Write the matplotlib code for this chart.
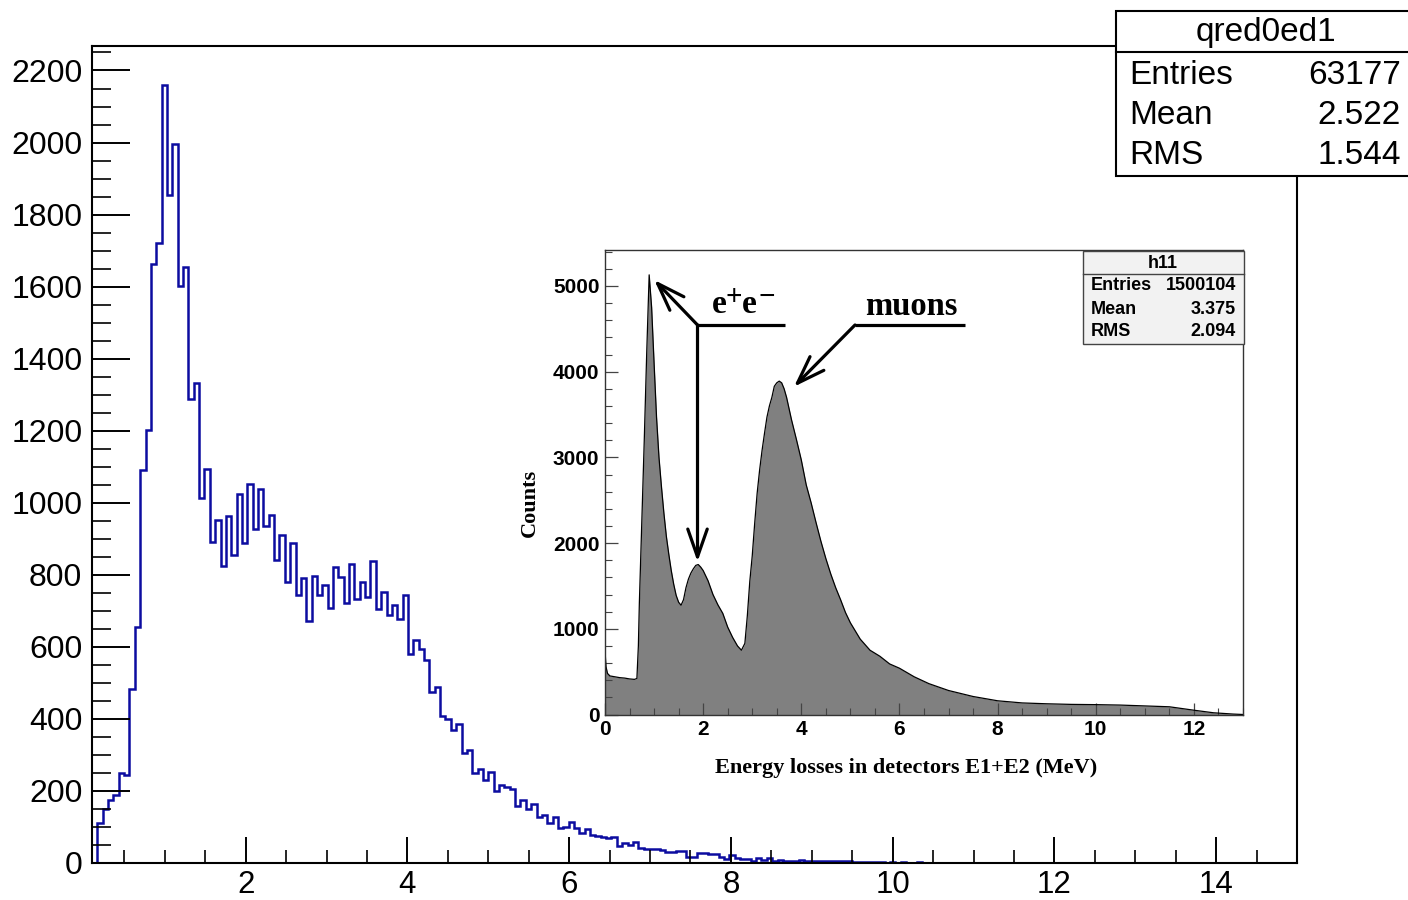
import numpy as np
import matplotlib
matplotlib.use("Agg")
import matplotlib.pyplot as plt
from matplotlib.ticker import MultipleLocator
from matplotlib.patches import Rectangle
from matplotlib.lines import Line2D

# ---------------- data: main histogram (qred0ed1) ----------------
main_xmin = 0.1
main_xmax = 15.0
main_nbins = 225
main_counts = [0, 112, 151, 174, 188, 250, 244, 482, 656, 1090,
               1201, 1664, 1721, 2160, 1854, 1995, 1601, 1655, 1287, 1333,
               1012, 1093, 890, 952, 824, 962, 856, 1025, 887, 1052,
               927, 1039, 935, 966, 842, 910, 780, 887, 743, 790,
               673, 796, 743, 771, 707, 821, 795, 722, 829, 734,
               780, 738, 837, 704, 752, 688, 717, 676, 745, 579,
               618, 593, 564, 475, 488, 407, 400, 370, 387, 305,
               314, 249, 261, 231, 254, 201, 217, 212, 205, 157,
               175, 149, 164, 127, 132, 110, 129, 98, 101, 115,
               96, 84, 93, 78, 75, 73, 70, 71, 47, 55,
               50, 58, 43, 40, 39, 39, 36, 31, 31, 34,
               34, 17, 17, 27, 29, 25, 25, 17, 11, 22,
               13, 11, 11, 5, 15, 8, 13, 6, 7, 5,
               6, 6, 7, 5, 6, 6, 5, 6, 6, 5,
               6, 5, 4, 4, 2, 2, 3, 2, 1, 2,
               1, 2, 1, 1, 2, 1, 0, 1, 0, 1]
main_ymax = 2268
main_xticks = [2, 4, 6, 8, 10, 12, 14]
main_yticks = [0, 200, 400, 600, 800, 1000, 1200, 1400, 1600, 1800, 2000, 2200]
main_stats_title = "qred0ed1"
main_stats = [("Entries", "63177"), ("Mean", "2.522"), ("RMS", "1.544")]

# ---------------- data: inset histogram (h11) ----------------
inset_energy = [0.00, 0.02, 0.05, 0.10, 0.20, 0.30, 0.40, 0.50, 0.60, 0.65,
                0.68, 0.70, 0.75, 0.80, 0.85, 0.90, 0.95, 1.00, 1.05, 1.10,
                1.15, 1.20, 1.25, 1.30, 1.35, 1.40, 1.45, 1.50, 1.55, 1.60,
                1.65, 1.70, 1.75, 1.80, 1.85, 1.90, 1.95, 2.00, 2.10, 2.20,
                2.30, 2.40, 2.50, 2.60, 2.70, 2.78, 2.85, 2.90, 2.95, 3.00,
                3.05, 3.10, 3.15, 3.20, 3.25, 3.30, 3.35, 3.40, 3.45, 3.50,
                3.55, 3.60, 3.65, 3.70, 3.80, 3.90, 4.00, 4.10, 4.20, 4.30,
                4.40, 4.50, 4.60, 4.70, 4.80, 4.90, 5.00, 5.20, 5.40, 5.60,
                5.80, 6.00, 6.30, 6.60, 7.00, 7.50, 8.00, 8.50, 9.00, 9.50,
                10.00, 10.50, 11.00, 11.50, 12.00, 12.40, 12.80, 13.00]
inset_counts = [750, 560, 480, 450, 440, 430, 425, 415, 410, 420,
                800, 1300, 2250, 3200, 4220, 5130, 4750, 4100, 3470, 3000,
                2660, 2350, 2080, 1870, 1680, 1520, 1390, 1310, 1275, 1340,
                1480, 1580, 1650, 1700, 1740, 1750, 1720, 1680, 1560, 1400,
                1280, 1180, 1020, 900, 800, 750, 830, 1150, 1550, 1850,
                2230, 2580, 2850, 3080, 3280, 3470, 3600, 3700, 3830, 3870,
                3890, 3870, 3800, 3700, 3440, 3210, 2970, 2680, 2470, 2240,
                2020, 1820, 1640, 1480, 1340, 1190, 1070, 880, 750, 680,
                590, 540, 440, 360, 280, 210, 160, 135, 125, 118,
                115, 110, 100, 90, 50, 20, 5, 0]
inset_xmax = 13.0
inset_ymax = 5420
inset_xticks = [0, 2, 4, 6, 8, 10, 12]
inset_yticks = [0, 1000, 2000, 3000, 4000, 5000]
inset_stats_title = "h11"
inset_stats = [("Entries", "1500104"), ("Mean", "3.375"), ("RMS", "2.094")]
inset_xlabel = "Energy losses in detectors E1+E2 (MeV)"
inset_ylabel = "Counts"

# ---------------- figure ----------------
W, H = 1408, 900
fig = plt.figure(figsize=(W / 100, H / 100), dpi=100)
SANS = "Liberation Sans"
SERIF = "Liberation Serif"


def fx(px):
    return px / W


def fy(py):
    return 1 - py / H


# ---- main axes ----
ax = fig.add_axes([fx(92), fy(863), fx(1297) - fx(92), fy(46) - fy(863)])
edges = main_xmin + np.arange(len(main_counts) + 1) * (main_xmax - main_xmin) / main_nbins
ax.stairs(main_counts, edges, baseline=0, color="#0c0ca0", lw=1.8)
ax.set_xlim(main_xmin, main_xmax)
ax.set_ylim(0, main_ymax)
ax.set_xticks(main_xticks)
ax.set_yticks(main_yticks)
ax.xaxis.set_minor_locator(MultipleLocator(0.5))
ax.yaxis.set_minor_locator(MultipleLocator(50))
ax.tick_params(axis="y", which="major", direction="in", length=27, width=1.4, pad=7,
               labelsize=23, left=True, right=False)
ax.tick_params(axis="y", which="minor", direction="in", length=14, width=1.2, left=True, right=False)
ax.tick_params(axis="x", which="major", direction="in", length=19, width=1.4, pad=5,
               labelsize=22.5, bottom=True, top=False)
ax.tick_params(axis="x", which="minor", direction="in", length=9.5, width=1.2, bottom=True, top=False)
for lab in ax.get_xticklabels() + ax.get_yticklabels():
    lab.set_fontfamily(SANS)
for sp in ax.spines.values():
    sp.set_linewidth(1.5)
    sp.set_color("black")

# ---- main stats box ----
box = Rectangle((fx(1116), fy(176)), fx(1420) - fx(1116), fy(11) - fy(176),
                transform=fig.transFigure, facecolor="white", edgecolor="black",
                lw=1.5, clip_on=False, zorder=5)
fig.add_artist(box)
fig.add_artist(Line2D([fx(1116), fx(1420)], [fy(52), fy(52)], transform=fig.transFigure,
                      color="black", lw=1.5, zorder=6))
fig.text(fx(1266), fy(33), main_stats_title, ha="center", va="center", fontsize=24,
         family=SANS, zorder=7)
for (name, val), py in zip(main_stats, [75, 116, 156]):
    fig.text(fx(1129), fy(py), name, ha="left", va="center", fontsize=24, family=SANS, zorder=7)
    fig.text(fx(1401), fy(py), val, ha="right", va="center", fontsize=24, family=SANS, zorder=7)

# ---- inset axes ----
axi = fig.add_axes([fx(605), fy(714.5), fx(1243) - fx(605), fy(250) - fy(714.5)], zorder=3)
axi.set_facecolor("white")
axi.fill_between(inset_energy, inset_counts, 0, color="#808080", lw=0)
axi.plot(inset_energy, inset_counts, color="black", lw=0.9)
axi.set_xlim(0, inset_xmax)
axi.set_ylim(0, inset_ymax)
axi.set_xticks(inset_xticks)
axi.set_yticks(inset_yticks)
axi.xaxis.set_minor_locator(MultipleLocator(0.5))
axi.yaxis.set_minor_locator(MultipleLocator(200))
axi.tick_params(which="major", direction="in", length=9, width=0.9, color="#444444",
                labelsize=15, pad=4, top=False, right=False)
axi.tick_params(which="minor", direction="in", length=5, width=0.8, color="#444444",
                top=False, right=False)
for lab in axi.get_xticklabels() + axi.get_yticklabels():
    lab.set_fontfamily(SANS)
    lab.set_fontweight("bold")
for sp in axi.spines.values():
    sp.set_linewidth(1.0)
    sp.set_color("#333333")

axi.text((530 - 605) / 638, (714.5 - 503) / 464.5, inset_ylabel, transform=axi.transAxes,
         rotation=90, ha="center", va="center", fontsize=16, family=SERIF, fontweight="bold")
axi.text((906 - 605) / 638, (714.5 - 768) / 464.5, inset_xlabel, transform=axi.transAxes,
         ha="center", va="center", fontsize=16, family=SERIF, fontweight="bold")

# annotations (data coordinates of the inset: MeV, counts)
arrow_kw = dict(arrowstyle="->,head_length=1.0,head_width=0.35", color="black", lw=2.3,
                shrinkA=0, shrinkB=0, mutation_scale=20)
knee_ee = (1.885, 4545)
axi.annotate("", xy=(1.004, 5070), xytext=knee_ee, arrowprops=arrow_kw)
axi.annotate("", xy=(1.885, 1783), xytext=knee_ee, arrowprops=arrow_kw)
axi.plot([1.885, 3.667], [4545, 4545], color="black", lw=2.3, solid_capstyle="butt")
knee_mu = (5.094, 4545)
axi.annotate("", xy=(3.851, 3825), xytext=knee_mu, arrowprops=arrow_kw)
axi.plot([5.094, 7.335], [4545, 4545], color="black", lw=2.3, solid_capstyle="butt")

ee_anchor = (2.18, 4685)
tkw = dict(family=SERIF, fontweight="bold", textcoords="offset points", xycoords="data")
axi.annotate("e", xy=ee_anchor, xytext=(0, 0), ha="left", va="baseline", fontsize=24, **tkw)
axi.annotate("+", xy=ee_anchor, xytext=(15.5, 11.5), ha="center", va="center", fontsize=21, **tkw)
axi.annotate("e", xy=ee_anchor, xytext=(21.5, 0), ha="left", va="baseline", fontsize=24, **tkw)
axi.annotate("\u2212", xy=ee_anchor, xytext=(39.5, 11.5), ha="center", va="center", fontsize=21, **tkw)
axi.annotate("muons", xy=(5.297, 4661), xytext=(0, 0), ha="left", va="baseline", fontsize=23.5, **tkw)

# inset stats box
sb = Rectangle(((1083 - 605) / 638, (714.5 - 344) / 464.5), (1244 - 1083) / 638, (344 - 251) / 464.5,
               transform=axi.transAxes, facecolor="#f2f2f2", edgecolor="#444444", lw=1.0,
               clip_on=False, zorder=5)
axi.add_patch(sb)
axi.plot([(1083 - 605) / 638, (1244 - 605) / 638], [(714.5 - 273.5) / 464.5] * 2,
         transform=axi.transAxes, color="#444444", lw=1.0, zorder=6, clip_on=False)
axi.text((1163 - 605) / 638, (714.5 - 263) / 464.5, inset_stats_title, transform=axi.transAxes,
         ha="center", va="center", fontsize=13, family=SANS, fontweight="bold", zorder=7)
for (name, val), py in zip(inset_stats, [286, 309, 332]):
    axi.text((1091 - 605) / 638, (714.5 - py) / 464.5, name, transform=axi.transAxes,
             ha="left", va="center", fontsize=13, family=SANS, fontweight="bold", zorder=7)
    axi.text((1236 - 605) / 638, (714.5 - py) / 464.5, val, transform=axi.transAxes,
             ha="right", va="center", fontsize=13, family=SANS, fontweight="bold", zorder=7)

fig.savefig("out.png", dpi=100)
